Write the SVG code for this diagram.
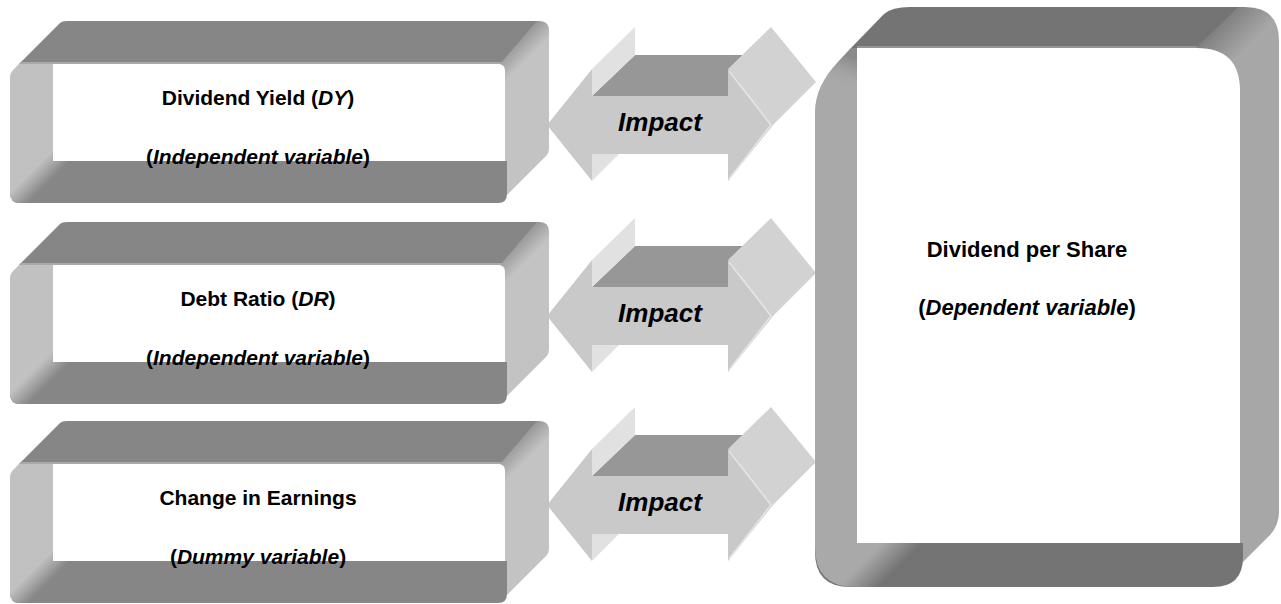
<svg xmlns="http://www.w3.org/2000/svg" width="1281" height="604" viewBox="0 0 1281 604">
<style>
.t{font-family:"Liberation Sans",Arial,sans-serif;font-weight:bold;font-size:21px;fill:#000;text-anchor:middle}
.tb{font-family:"Liberation Sans",Arial,sans-serif;font-weight:bold;font-size:22px;fill:#000;text-anchor:middle}
.i{font-style:italic}
.imp{font-family:"Liberation Sans",Arial,sans-serif;font-weight:bold;font-style:italic;font-size:26px;fill:#000;text-anchor:middle}
.dk{fill:#868686}
.dkb{fill:#747474}
.wh{fill:#ffffff}
.top{fill:#979797}
.bk1{fill:#e1e1e1}
.bk2{fill:#d2d2d2}
.fr{fill:#c9c9c9}
.hl{stroke:#e6e6e6;stroke-width:1.5;fill:none}
</style>
<defs>
<linearGradient id="gRS" gradientUnits="userSpaceOnUse" x1="512" y1="14" x2="532" y2="34"><stop offset="0" stop-color="#878787"/><stop offset="1" stop-color="#c3c3c3"/></linearGradient>
<linearGradient id="gLS" gradientUnits="userSpaceOnUse" x1="22" y1="160" x2="36" y2="174"><stop offset="0" stop-color="#c1c1c1"/><stop offset="1" stop-color="#868686"/></linearGradient>
<linearGradient id="gRB" gradientUnits="userSpaceOnUse" x1="1210" y1="20" x2="1242" y2="52"><stop offset="0" stop-color="#757575"/><stop offset="1" stop-color="#a7a7a7"/></linearGradient>
<linearGradient id="gLB" gradientUnits="userSpaceOnUse" x1="825" y1="600" x2="845" y2="620"><stop offset="0" stop-color="#a9a9a9"/><stop offset="1" stop-color="#747474"/></linearGradient>
<linearGradient id="gLBt" gradientUnits="userSpaceOnUse" x1="845" y1="55" x2="835" y2="85"><stop offset="0" stop-color="#8a8a8a"/><stop offset="1" stop-color="#a9a9a9" stop-opacity="0"/></linearGradient>
<g id="frameS">
<path class="dk" d="M19,43 L60,2 Q62,0 67,0 L540,0 L540,43 Z"/>
<rect x="20" y="41" width="486" height="2" fill="#a9a9a9"/>
<path fill="url(#gRS)" d="M500,43 L536,1 Q538,0 540,0 Q549,0 549,10 L549,128 Q549,132 546,135 L507,174 L503,174 L503,52 Z"/>
<path class="dk" d="M10,140 L507,140 L507,173 Q507,182 498,182 L20,182 Q10,182 10,172 Z"/>
<path fill="url(#gLS)" d="M53,43 L19,43 L13,49 Q10,52 10,57 L10,172 Q10,182 20,182 L80,182 L80,140 L53,140 Z"/>
<path class="wh" d="M53,43 L498,43 Q505,43 505,50 L505,140 L63,140 Q53,140 53,130 Z"/>
</g>
<g id="arrow">
<path class="top" d="M592,-29 L635,-70 L770,-70 L728,-29 Z"/>
<path class="bk1" d="M592,-56 L635,-98 L635,-70 L592,-29 Z"/>
<path class="bk1" d="M592,29 L619,29 L592,56 Z"/>
<path class="bk2" d="M728,-56 L771,-98 L816,-43 L773,0 Z"/>
<path class="fr" d="M547,0 L592,-56 L592,-29 L728,-29 L728,-56 L773,0 L728,56 L728,29 L592,29 L592,56 Z"/>
<path class="hl" d="M729,-54 L771,0 L729,54"/>
</g>
</defs>

<g id="connectors">
<g id="impact-dy"><use href="#arrow" transform="translate(0,125)"/><text class="imp" x="660" y="131">Impact</text></g>
<g id="impact-dr"><use href="#arrow" transform="translate(0,316)"/><text class="imp" x="660" y="322">Impact</text></g>
<g id="impact-ce"><use href="#arrow" transform="translate(0,505)"/><text class="imp" x="660" y="511">Impact</text></g>
</g>

<g id="node-dy">
<use href="#frameS" transform="translate(0,21)"/>
<text class="t" x="258" y="105">Dividend Yield (<tspan class="i">DY</tspan>)</text>
<text class="t" x="258" y="164">(<tspan class="i">Independent variable</tspan>)</text>
</g>

<g id="node-dr">
<use href="#frameS" transform="translate(0,222)"/>
<text class="t" x="258" y="306">Debt Ratio (<tspan class="i">DR</tspan>)</text>
<text class="t" x="258" y="365">(<tspan class="i">Independent variable</tspan>)</text>
</g>

<g id="node-ce">
<use href="#frameS" transform="translate(0,421)"/>
<text class="t" x="258" y="505">Change in Earnings</text>
<text class="t" x="258" y="564">(<tspan class="i">Dummy variable</tspan>)</text>
</g>

<g id="node-dps">
<path class="dkb" d="M851,48 L884,14 Q892,7 910,7 L1245,7 L1245,48 Z"/>
<rect x="857" y="46" width="345" height="2" fill="#959595"/>
<path fill="url(#gRB)" d="M1196,48 L1238,7 L1245,7 Q1279,7 1279,41 L1279,512 Q1279,526 1269,536 L1243,562 L1240,562 L1240,90 Z"/>
<path class="dkb" d="M815,543 L1243,543 L1243,557 Q1243,587 1213,587 L850,587 Q815,587 815,552 Z"/>
<path fill="url(#gLB)" d="M857,48 L851,48 L838,62 Q815,86 815,112 L815,547 Q815,587 855,587 L930,587 L930,543 L857,543 Z"/>
<path fill="url(#gLBt)" d="M857,48 L851,48 L838,62 Q815,86 815,112 L815,120 L857,120 Z"/>
<path class="wh" d="M857,48 L1197,48 Q1240,48 1240,91 L1240,543 L900,543 Q857,543 857,500 Z"/>
<text class="tb" x="1027" y="257">Dividend per Share</text>
<text class="tb" x="1027" y="315">(<tspan class="i">Dependent variable</tspan>)</text>
</g>
</svg>
